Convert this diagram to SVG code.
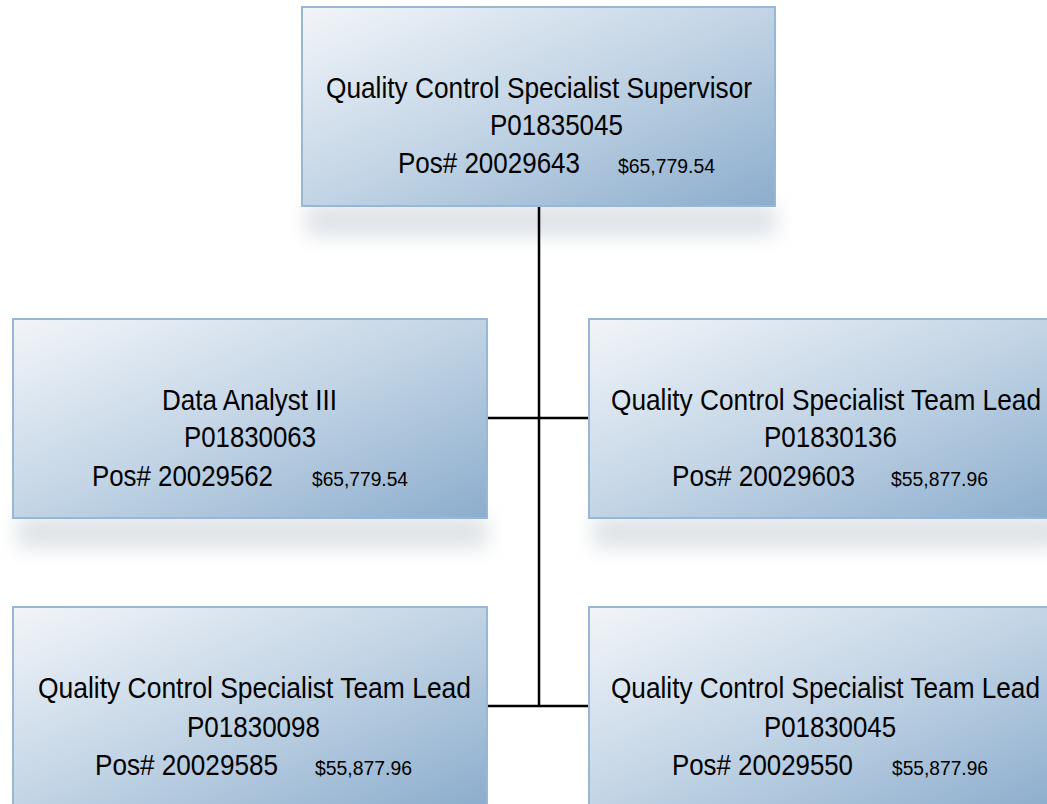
<svg xmlns="http://www.w3.org/2000/svg" width="1047" height="804" viewBox="0 0 1047 804">
<defs>
<linearGradient id="g" x1="0" y1="0" x2="1" y2="1">
<stop offset="0" stop-color="#f2f5f9"/>
<stop offset="0.5" stop-color="#c2d4e5"/>
<stop offset="1" stop-color="#8cadcd"/>
</linearGradient>
<filter id="sh" x="-20%" y="-100%" width="140%" height="300%">
<feGaussianBlur stdDeviation="10"/>
</filter>
</defs>
<style>
.box{fill:url(#g);stroke:#98b7d6;stroke-width:2}
.shadow{fill:#d3d9df;opacity:0.75;filter:url(#sh)}
.t{font-family:"Liberation Sans",Arial,sans-serif;font-size:30px;fill:#000}
.s{font-family:"Liberation Sans",Arial,sans-serif;font-size:20px;fill:#000}
.c{stroke:#000;stroke-width:2.5;fill:none}
</style>
<rect width="1047" height="804" fill="#fff"/>
<g id="shadows">
<rect class="shadow" x="306" y="204" width="470" height="32"/>
<rect class="shadow" x="17" y="516" width="470" height="32"/>
<rect class="shadow" x="593" y="516" width="470" height="32"/>
</g>
<g id="connectors">
<path class="c" d="M539 206V706M487 418H589M487 706H589"/>
</g>
<g id="n0">
<rect class="box" x="302" y="7" width="473" height="199"/>
<text class="t" x="326" y="98" textLength="426" lengthAdjust="spacingAndGlyphs">Quality Control Specialist Supervisor</text>
<text class="t" x="490" y="135" textLength="133" lengthAdjust="spacingAndGlyphs">P01835045</text>
<text class="t" x="398" y="173" textLength="182" lengthAdjust="spacingAndGlyphs">Pos# 20029643</text>
<text class="s" x="618" y="173" textLength="97" lengthAdjust="spacingAndGlyphs">$65,779.54</text>
</g>
<g id="n1">
<rect class="box" x="13" y="319" width="474" height="199"/>
<text class="t" x="162" y="410" textLength="175" lengthAdjust="spacingAndGlyphs">Data Analyst III</text>
<text class="t" x="184" y="447" textLength="132" lengthAdjust="spacingAndGlyphs">P01830063</text>
<text class="t" x="92" y="486" textLength="181" lengthAdjust="spacingAndGlyphs">Pos# 20029562</text>
<text class="s" x="312" y="486" textLength="96" lengthAdjust="spacingAndGlyphs">$65,779.54</text>
</g>
<g id="n2">
<rect class="box" x="589" y="319" width="474" height="199"/>
<text class="t" x="611" y="410" textLength="430" lengthAdjust="spacingAndGlyphs">Quality Control Specialist Team Lead</text>
<text class="t" x="764" y="447" textLength="133" lengthAdjust="spacingAndGlyphs">P01830136</text>
<text class="t" x="672" y="486" textLength="183" lengthAdjust="spacingAndGlyphs">Pos# 20029603</text>
<text class="s" x="891" y="486" textLength="97" lengthAdjust="spacingAndGlyphs">$55,877.96</text>
</g>
<g id="n3">
<rect class="box" x="13" y="607" width="474" height="199"/>
<text class="t" x="38" y="698" textLength="433" lengthAdjust="spacingAndGlyphs">Quality Control Specialist Team Lead</text>
<text class="t" x="187" y="737" textLength="133" lengthAdjust="spacingAndGlyphs">P01830098</text>
<text class="t" x="95" y="775" textLength="183" lengthAdjust="spacingAndGlyphs">Pos# 20029585</text>
<text class="s" x="315" y="775" textLength="97" lengthAdjust="spacingAndGlyphs">$55,877.96</text>
</g>
<g id="n4">
<rect class="box" x="589" y="607" width="474" height="199"/>
<text class="t" x="611" y="698" textLength="429" lengthAdjust="spacingAndGlyphs">Quality Control Specialist Team Lead</text>
<text class="t" x="764" y="737" textLength="132" lengthAdjust="spacingAndGlyphs">P01830045</text>
<text class="t" x="672" y="775" textLength="181" lengthAdjust="spacingAndGlyphs">Pos# 20029550</text>
<text class="s" x="892" y="775" textLength="96" lengthAdjust="spacingAndGlyphs">$55,877.96</text>
</g>
</svg>
